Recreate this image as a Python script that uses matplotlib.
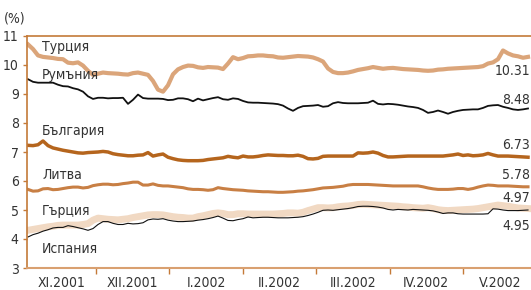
import numpy as np
import matplotlib
matplotlib.use("Agg")
import matplotlib.pyplot as plt
from matplotlib import font_manager
from matplotlib.font_manager import FontProperties

# ---------------- data (daily observations, Nov 2001 - May 2002) ----------------
months = ["XI.2001", "XII.2001", "I.2002", "II.2002", "III.2002", "IV.2002", "V.2002"]

turkey = [10.71, 10.55, 10.33, 10.28, 10.26, 10.24, 10.21, 10.2, 10.08, 10.06, 10.09, 9.98, 9.8, 9.66,
          9.7, 9.74, 9.72, 9.71, 9.7, 9.68, 9.67, 9.72, 9.74, 9.7, 9.66, 9.45, 9.15, 9.08, 9.3, 9.68,
          9.85, 9.93, 9.98, 9.97, 9.92, 9.9, 9.93, 9.92, 9.91, 9.86, 10.05, 10.27, 10.2, 10.24, 10.3,
          10.31, 10.33, 10.33, 10.31, 10.3, 10.26, 10.25, 10.27, 10.29, 10.31, 10.3, 10.29, 10.26, 10.2,
          10.12, 9.88, 9.76, 9.72, 9.72, 9.74, 9.78, 9.83, 9.86, 9.89, 9.93, 9.9, 9.87, 9.89, 9.9, 9.88,
          9.86, 9.85, 9.84, 9.83, 9.81, 9.8, 9.81, 9.84, 9.85, 9.87, 9.88, 9.89, 9.9, 9.91, 9.92, 9.93,
          9.96, 10.05, 10.09, 10.2, 10.5, 10.4, 10.33, 10.3, 10.25, 10.28]

romania = [9.51, 9.42, 9.39, 9.39, 9.39, 9.39, 9.32, 9.27, 9.26, 9.2, 9.16, 9.08, 8.92, 8.83, 8.87,
           8.87, 8.85, 8.86, 8.86, 8.87, 8.66, 8.8, 8.98, 8.86, 8.84, 8.84, 8.84, 8.83, 8.79, 8.8, 8.85,
           8.85, 8.82, 8.75, 8.84, 8.78, 8.82, 8.86, 8.89, 8.82, 8.8, 8.85, 8.83, 8.76, 8.71, 8.7, 8.7,
           8.69, 8.68, 8.67, 8.65, 8.6, 8.5, 8.42, 8.52, 8.58, 8.59, 8.6, 8.62, 8.56, 8.58, 8.68, 8.72,
           8.69, 8.68, 8.68, 8.68, 8.69, 8.7, 8.77, 8.66, 8.64, 8.66, 8.65, 8.63, 8.6, 8.57, 8.55, 8.52,
           8.45, 8.35, 8.38, 8.43, 8.38, 8.32, 8.38, 8.42, 8.45, 8.46, 8.47, 8.47, 8.52, 8.59, 8.61, 8.62,
           8.56, 8.52, 8.47, 8.45, 8.47, 8.5]

bulgaria = [7.23, 7.22, 7.25, 7.38, 7.22, 7.14, 7.1, 7.06, 7.03, 7.0, 6.97, 6.96, 6.98, 6.99, 7.0,
            7.02, 7.0, 6.94, 6.91, 6.89, 6.87, 6.87, 6.89, 6.9, 6.98, 6.86, 6.9, 6.93, 6.82, 6.77, 6.73,
            6.71, 6.7, 6.7, 6.7, 6.71, 6.74, 6.76, 6.78, 6.8, 6.85, 6.82, 6.8, 6.86, 6.83, 6.83, 6.85,
            6.88, 6.9, 6.89, 6.88, 6.88, 6.87, 6.87, 6.89, 6.85, 6.77, 6.76, 6.78, 6.85, 6.86, 6.86, 6.86,
            6.86, 6.86, 6.86, 6.97, 6.96, 6.97, 7.0, 6.96, 6.88, 6.83, 6.83, 6.84, 6.85, 6.86, 6.86, 6.86,
            6.86, 6.86, 6.86, 6.86, 6.86, 6.88, 6.9, 6.93, 6.88, 6.9, 6.87, 6.88, 6.9, 6.95, 6.9, 6.86,
            6.86, 6.86, 6.85, 6.84, 6.83, 6.82]

lithuania = [5.71, 5.65, 5.66, 5.73, 5.74, 5.7, 5.71, 5.74, 5.77, 5.79, 5.79, 5.76, 5.78, 5.84, 5.87,
             5.89, 5.89, 5.87, 5.88, 5.91, 5.93, 5.96, 5.96, 5.86, 5.86, 5.9, 5.85, 5.83, 5.83, 5.81, 5.79,
             5.77, 5.73, 5.71, 5.71, 5.7, 5.68, 5.7, 5.77, 5.74, 5.72, 5.7, 5.69, 5.68, 5.66, 5.65, 5.64,
             5.63, 5.63, 5.62, 5.61, 5.61, 5.62, 5.63, 5.65, 5.66, 5.68, 5.7, 5.73, 5.76, 5.77, 5.78, 5.8,
             5.82, 5.86, 5.88, 5.88, 5.88, 5.88, 5.87, 5.86, 5.85, 5.84, 5.83, 5.83, 5.83, 5.83, 5.83, 5.83,
             5.8, 5.76, 5.73, 5.71, 5.71, 5.71, 5.72, 5.74, 5.74, 5.71, 5.74, 5.79, 5.83, 5.86, 5.85, 5.83,
             5.83, 5.83, 5.82, 5.81, 5.8, 5.8]

greece = [4.3, 4.33, 4.36, 4.39, 4.42, 4.44, 4.47, 4.48, 4.48, 4.48, 4.48, 4.5, 4.53, 4.65, 4.72,
          4.7, 4.68, 4.67, 4.66, 4.68, 4.7, 4.74, 4.77, 4.8, 4.83, 4.84, 4.84, 4.83, 4.8, 4.77, 4.75,
          4.74, 4.72, 4.72, 4.77, 4.8, 4.84, 4.88, 4.9, 4.88, 4.84, 4.84, 4.87, 4.87, 4.86, 4.86, 4.86,
          4.86, 4.86, 4.86, 4.87, 4.88, 4.9, 4.9, 4.89, 4.92, 4.98, 5.03, 5.08, 5.08, 5.07, 5.08, 5.11,
          5.13, 5.14, 5.16, 5.19, 5.2, 5.19, 5.18, 5.17, 5.16, 5.15, 5.14, 5.13, 5.11, 5.1, 5.08, 5.07,
          5.06, 5.08, 5.05, 5.01, 4.99, 4.98, 4.99, 5.0, 5.01, 5.02, 5.03, 5.05, 5.08, 5.11, 5.14, 5.17,
          5.15, 5.13, 5.1, 5.07, 5.06, 5.05]

spain = [4.07, 4.15, 4.2, 4.27, 4.32, 4.38, 4.4, 4.4, 4.46, 4.43, 4.39, 4.35, 4.3, 4.36, 4.5,
         4.6, 4.6, 4.54, 4.5, 4.5, 4.54, 4.52, 4.53, 4.56, 4.66, 4.69, 4.68, 4.7, 4.65, 4.62, 4.6,
         4.6, 4.61, 4.62, 4.65, 4.67, 4.7, 4.74, 4.79, 4.72, 4.64, 4.63, 4.67, 4.7, 4.76, 4.73, 4.74,
         4.75, 4.75, 4.74, 4.73, 4.73, 4.73, 4.74, 4.75, 4.77, 4.81, 4.86, 4.92, 4.99, 5.0, 4.99, 5.01,
         5.03, 5.05, 5.08, 5.12, 5.13, 5.13, 5.12, 5.1, 5.07, 5.02, 5.0, 5.02, 5.01, 5.0, 5.02, 5.01,
         5.0, 4.99, 4.97, 4.93, 4.88, 4.9, 4.9, 4.87, 4.86, 4.86, 4.86, 4.86, 4.86, 4.87, 5.04, 5.03,
         5.0, 4.98, 4.98, 4.98, 4.99, 5.0]

names = ["Турция", "Румъния", "България", "Литва", "Гърция", "Испания"]
last_values = ["10.31", "8.48", "6.73", "5.78", "4.97", "4.95"]

# ---------------- font: prefer a narrow/condensed sans ----------------
def pick_font():
    cands = []
    for f in font_manager.fontManager.ttflist:
        fn = f.fname.lower()
        if "bold" in fn or "italic" in fn or "oblique" in fn:
            continue
        if "liberationsansnarrow-regular" in fn.replace(" ", ""):
            cands.append((0, f.fname))
        elif "dejavusanscondensed.ttf" in fn:
            cands.append((1, f.fname))
        elif "condensed" in fn and ("sans" in fn or "roboto" in fn) and "semi" not in fn:
            cands.append((2, f.fname))
    if cands:
        cands.sort()
        return cands[0][1]
    return None

fpath = pick_font()
FS = 9.5
def fp(size=FS):
    if fpath:
        return FontProperties(fname=fpath, size=size)
    return FontProperties(family=["Liberation Sans", "DejaVu Sans"], size=size)

c_turkey = "#dba57a"
c_romania = "#111111"
c_bulgaria = "#b5651d"
c_lith = "#c87f44"
c_greece = "#f1d9c3"
c_spain = "#111111"
c_axis = "#c47a38"
c_text = "#333333"

fig = plt.figure(figsize=(5.31, 2.90), dpi=100)
ax = fig.add_axes([27 / 531, 22 / 290, 504 / 531, 232 / 290])

def xs(series):
    return np.arange(len(series))

ax.plot(xs(turkey), turkey, color=c_turkey, lw=3.0)
ax.plot(xs(romania), romania, color=c_romania, lw=1.3)
ax.plot(xs(bulgaria), bulgaria, color=c_bulgaria, lw=2.5)
ax.plot(xs(lithuania), lithuania, color=c_lith, lw=2.2)
ax.plot(xs(greece), greece, color=c_greece, lw=5.0)
ax.plot(xs(spain), spain, color=c_spain, lw=0.8)

ax.set_xlim(-0.2, 100.6)
ax.set_ylim(3, 11)

# month boundaries and centered labels
step = 14.68
bounds = [13.6 + step * j for j in range(6)]
edges = [-0.2] + bounds + [bounds[-1] + step]
centers = [(edges[i] + edges[i + 1]) / 2 for i in range(len(months))]
ax.set_xticks(bounds)
ax.set_xticklabels([])
ax.set_xticks(centers, minor=True)
ax.set_xticklabels(months, minor=True)
ax.tick_params(axis="x", which="major", direction="out", length=4, width=1, color=c_axis)
ax.tick_params(axis="x", which="minor", length=0, pad=6, labelcolor=c_text)

ax.set_yticks(range(3, 12))
ax.tick_params(axis="y", direction="out", length=3, width=1, color=c_axis,
               labelcolor=c_text, pad=3)
for lab in ax.get_xticklabels(minor=True) + ax.get_yticklabels():
    lab.set_fontproperties(fp(10))

ax.spines["right"].set_visible(False)
ax.spines["left"].set_color(c_axis)
ax.spines["left"].set_linewidth(1.2)
ax.spines["top"].set_color(c_axis)
ax.spines["top"].set_linewidth(1.2)
ax.spines["bottom"].set_color("#d9a070")
ax.spines["bottom"].set_linewidth(1.5)

# series names at the left
name_y = [10.62, 9.66, 7.72, 6.21, 4.97, 3.66]
for nm, yv in zip(names, name_y):
    ax.text(2.8, yv, nm, ha="left", va="center", fontproperties=fp(10), color=c_text)

# last values at the right
val_y = [9.79, 8.79, 7.24, 6.21, 5.41, 4.45]
for lv, yv in zip(last_values, val_y):
    ax.text(100.4, yv, lv, ha="right", va="center", fontproperties=fp(10), color=c_text)

ax.text(-0.024, 11.62, "(%)", transform=ax.get_yaxis_transform(), ha="center", va="center",
        fontproperties=fp(10), color=c_text, clip_on=False)

fig.savefig("out.png", dpi=100)
